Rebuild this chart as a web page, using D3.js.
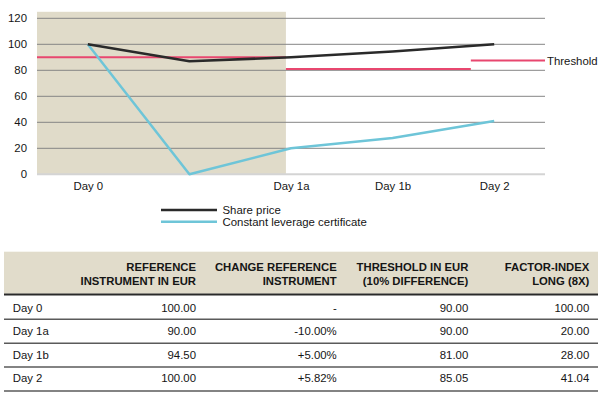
<!DOCTYPE html>
<html>
<head>
<meta charset="utf-8">
<script src="https://cdn.jsdelivr.net/npm/d3@7"></script>
<style>
  html, body { margin: 0; padding: 0; background: #fff; }
  svg { display: block; font-family: "Liberation Sans", Arial, sans-serif; }
</style>
</head>
<body>
<svg id="chart" width="602" height="399"></svg>
<script>
// ---- Chart data ----
const categories = ["Day 0", "", "Day 1a", "Day 1b", "Day 2"];
const sharePrice = [100, 87, 90, 94.5, 100];
const certificate = [100, 0, 20, 28, 41];
const yTicks = [0, 20, 40, 60, 80, 100, 120];
// threshold steps: level and the category-index span each applies to
const thresholdLevels = [90, 81, 87.5];
const thresholdFrom = [-0.5, 1.95, 3.77];
const thresholdTo = [1.95, 3.77, 4.5];
const shadedUntil = 1.95; // category index where the beige period ends
const seriesNames = ["Share price", "Constant leverage certificate"];

// ---- Table data ----
const tableHead1 = ["REFERENCE", "CHANGE REFERENCE", "THRESHOLD IN EUR", "FACTOR-INDEX"];
const tableHead2 = ["INSTRUMENT IN EUR", "INSTRUMENT", "(10% DIFFERENCE)", "LONG (8X)"];
const tableDays = ["Day 0", "Day 1a", "Day 1b", "Day 2"];
const colReference = ["100.00", "90.00", "94.50", "100.00"];
const colChange = ["-", "-10.00%", "+5.00%", "+5.82%"];
const colThreshold = ["90.00", "90.00", "81.00", "85.05"];
const colFactor = ["100.00", "20.00", "28.00", "41.04"];

const svg = d3.select("#chart");
const FS = "11.4px";
const TXT = "#151515";

const x = d3.scaleLinear().domain([-0.5, 4.5]).range([37, 545]);
const y = d3.scaleLinear().domain([0, 120]).range([174.3, 18.3]);

// shaded period
svg.append("rect")
  .attr("x", x(-0.5)).attr("y", y(125))
  .attr("width", x(shadedUntil) - x(-0.5))
  .attr("height", y(0) - y(125))
  .attr("fill", "#e0dbc9");

// gridlines
svg.append("g").selectAll("line").data(yTicks).join("line")
  .attr("x1", x(-0.5)).attr("x2", x(4.5))
  .attr("y1", d => y(d)).attr("y2", d => y(d))
  .attr("stroke", d => d === 0 ? "#d4d4d4" : "#858585")
  .attr("stroke-width", d => d === 0 ? 2 : 1);

// y axis labels
const yAxis = d3.axisLeft(y).tickValues(yTicks).tickSize(0).tickPadding(0);
const gy = svg.append("g").attr("transform", "translate(27,0)").call(yAxis);
gy.select(".domain").remove();
gy.selectAll("text").attr("font-size", FS).attr("fill", TXT)
  .attr("font-family", "Liberation Sans, Arial, sans-serif");

// x axis labels
const xAxis = d3.axisBottom(x).tickValues([0, 2, 3, 4])
  .tickFormat(i => categories[i]).tickSize(0).tickPadding(0);
const gx = svg.append("g").attr("transform", "translate(0,182)").call(xAxis);
gx.select(".domain").remove();
gx.selectAll("text").attr("font-size", FS).attr("fill", TXT)
  .attr("font-family", "Liberation Sans, Arial, sans-serif");

// threshold segments
svg.append("g").selectAll("line").data(thresholdLevels).join("line")
  .attr("x1", (d, i) => x(thresholdFrom[i]))
  .attr("x2", (d, i) => x(thresholdTo[i]))
  .attr("y1", d => y(d)).attr("y2", d => y(d))
  .attr("stroke", "#e8476f").attr("stroke-width", 2);

svg.append("text").attr("x", x(4.5) + 2).attr("y", y(thresholdLevels[2]))
  .attr("dy", "0.35em").attr("font-size", FS).attr("fill", TXT)
  .text("Threshold");

const line = d3.line().x((d, i) => x(i)).y(d => y(d));

svg.append("path").datum(certificate).attr("d", line)
  .attr("fill", "none").attr("stroke", "#6ec5d8").attr("stroke-width", 2.5)
  .attr("stroke-linejoin", "round");
svg.append("path").datum(sharePrice).attr("d", line)
  .attr("fill", "none").attr("stroke", "#2a2a2a").attr("stroke-width", 2.6)
  .attr("stroke-linejoin", "round");

// legend
const legendColors = ["#2a2a2a", "#6ec5d8"];
const lg = svg.append("g");
seriesNames.forEach((name, i) => {
  const ly = 210 + i * 11.7;
  lg.append("line").attr("x1", 161).attr("x2", 217).attr("y1", ly).attr("y2", ly)
    .attr("stroke", legendColors[i]).attr("stroke-width", 2.6);
  lg.append("text").attr("x", 222.5).attr("y", ly).attr("dy", "0.35em")
    .attr("font-size", FS).attr("fill", TXT).text(name);
});

// ---- table ----
const tableLeft = 4, tableRight = 598;
const colRight = [196, 336.7, 468.3, 589.3];
const t = svg.append("g");
t.append("rect").attr("x", tableLeft).attr("y", 251.7)
  .attr("width", tableRight - tableLeft).attr("height", 42)
  .attr("fill", "#e1dccb");
t.append("line").attr("x1", tableLeft).attr("x2", tableRight)
  .attr("y1", 294.5).attr("y2", 294.5).attr("stroke", "#2a2a2a").attr("stroke-width", 2.2);

tableHead1.forEach((h, i) => {
  t.append("text").attr("x", colRight[i]).attr("y", 266.7).attr("dy", "0.35em")
    .attr("text-anchor", "end").attr("font-weight", "bold").attr("font-size", "11.3px")
    .attr("fill", TXT).text(h);
  t.append("text").attr("x", colRight[i]).attr("y", 281).attr("dy", "0.35em")
    .attr("text-anchor", "end").attr("font-weight", "bold").attr("font-size", "11.3px")
    .attr("fill", TXT).text(tableHead2[i]);
});

const rowCenter = [307.7, 331, 355, 378.5];
const rowLines = [319.3, 343.3, 367, 391];
const cols = [colReference, colChange, colThreshold, colFactor];
tableDays.forEach((d, r) => {
  t.append("text").attr("x", 12.7).attr("y", rowCenter[r]).attr("dy", "0.35em")
    .attr("font-size", FS).attr("fill", TXT).text(d);
  cols.forEach((c, ci) => {
    t.append("text").attr("x", colRight[ci]).attr("y", rowCenter[r]).attr("dy", "0.35em")
      .attr("text-anchor", "end").attr("font-size", FS).attr("fill", TXT).text(c[r]);
  });
  t.append("line").attr("x1", tableLeft).attr("x2", tableRight)
    .attr("y1", rowLines[r]).attr("y2", rowLines[r])
    .attr("stroke", "#5a5a5a").attr("stroke-width", 1.5);
});
</script>
</body>
</html>
